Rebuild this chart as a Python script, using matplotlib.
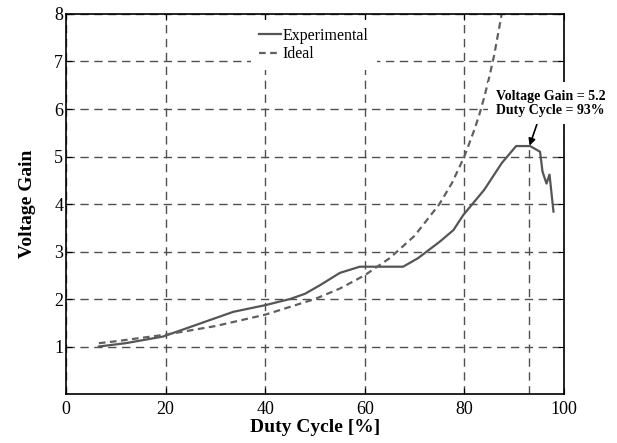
import numpy as np
import matplotlib
matplotlib.use('Agg')
import matplotlib.pyplot as plt

plt.rcParams['font.family'] = ['Liberation Serif', 'DejaVu Serif']

# experimental duty cycle [%] / voltage gain
duty_exp = [6.6, 12, 19.5, 26, 33.6, 40, 45, 48, 51, 55, 59, 67.7, 70.7, 75.1, 77.8,
            79.8, 84, 87.5, 90.4, 93.2, 95.2, 95.7, 96.5, 97.1, 97.9]
gain_exp = [1.0, 1.07, 1.21, 1.45, 1.73, 1.87, 2.0, 2.11, 2.29, 2.55, 2.68, 2.68, 2.86, 3.21, 3.45,
            3.77, 4.3, 4.86, 5.22, 5.22, 5.1, 4.68, 4.43, 4.62, 3.84]

# ideal curve points
duty_ideal = [6.6, 10, 20, 30, 40, 50, 55, 60, 65, 70, 75, 77.5, 80, 82, 83, 84, 85, 86, 87.5]
gain_ideal = [1.07, 1.11, 1.25, 1.43, 1.67, 2.0, 2.22, 2.5, 2.86, 3.33, 4.0, 4.44, 5.0, 5.56,
              5.88, 6.25, 6.67, 7.14, 8.0]

peak_duty = 93
peak_gain = 5.2

fig = plt.figure(figsize=(6.17, 4.43), dpi=100)
ax = fig.add_axes([0.107, 0.1106, 0.807, 0.8578])

ax.grid(True, color='#505050', linestyle=(0, (6, 4)), linewidth=1.0)
ax.vlines(peak_duty, 0, peak_gain, color='#505050', linestyle=(0, (6, 4)), linewidth=1.0)

ax.plot(duty_exp, gain_exp, color='#555555', linewidth=1.6, label='Experimental')
ax.plot(duty_ideal, gain_ideal, color='#606060', linewidth=1.6, linestyle=(0, (3, 2)), label='Ideal')

ax.set_xlim(0, 100)
ax.set_ylim(0, 8)
ax.set_xticks([0, 20, 40, 60, 80, 100])
ax.set_yticks([1, 2, 3, 4, 5, 6, 7, 8])
ax.tick_params(direction='in', length=4, top=True, right=True, labelsize=13)
ax.tick_params(axis='x', pad=5)
ax.tick_params(axis='y', pad=2)
for s in ax.spines.values():
    s.set_linewidth(1.2)
    s.set_zorder(6)

ax.set_xlabel('Duty Cycle [%]', fontsize=14, fontweight='bold', labelpad=1)
ax.set_ylabel('Voltage Gain', fontsize=14, fontweight='bold', labelpad=13)

leg = ax.legend(loc='upper left', bbox_to_anchor=(0.355, 1.005), fontsize=11.5, frameon=True,
                facecolor='white', edgecolor='none', framealpha=1, fancybox=False,
                handlelength=1.4, handletextpad=0.1, borderpad=0.5, labelspacing=0.15)
leg.set_zorder(5)

# text box hides the grid and the right spine behind it, like the original
ax.annotate('Voltage Gain = 5.2\nDuty Cycle = 93%', xy=(peak_duty, peak_gain), xytext=(86.3, 6.12),
            fontsize=10, fontweight='bold', ha='left', va='center', linespacing=1.05, zorder=8,
            bbox=dict(boxstyle='square,pad=0.55', fc='white', ec='none'),
            arrowprops=dict(arrowstyle='-|>', color='black', lw=1.2, mutation_scale=10,
                            shrinkA=0, shrinkB=1, relpos=(0.4, 0.0)))

fig.savefig('out.png', dpi=100)
